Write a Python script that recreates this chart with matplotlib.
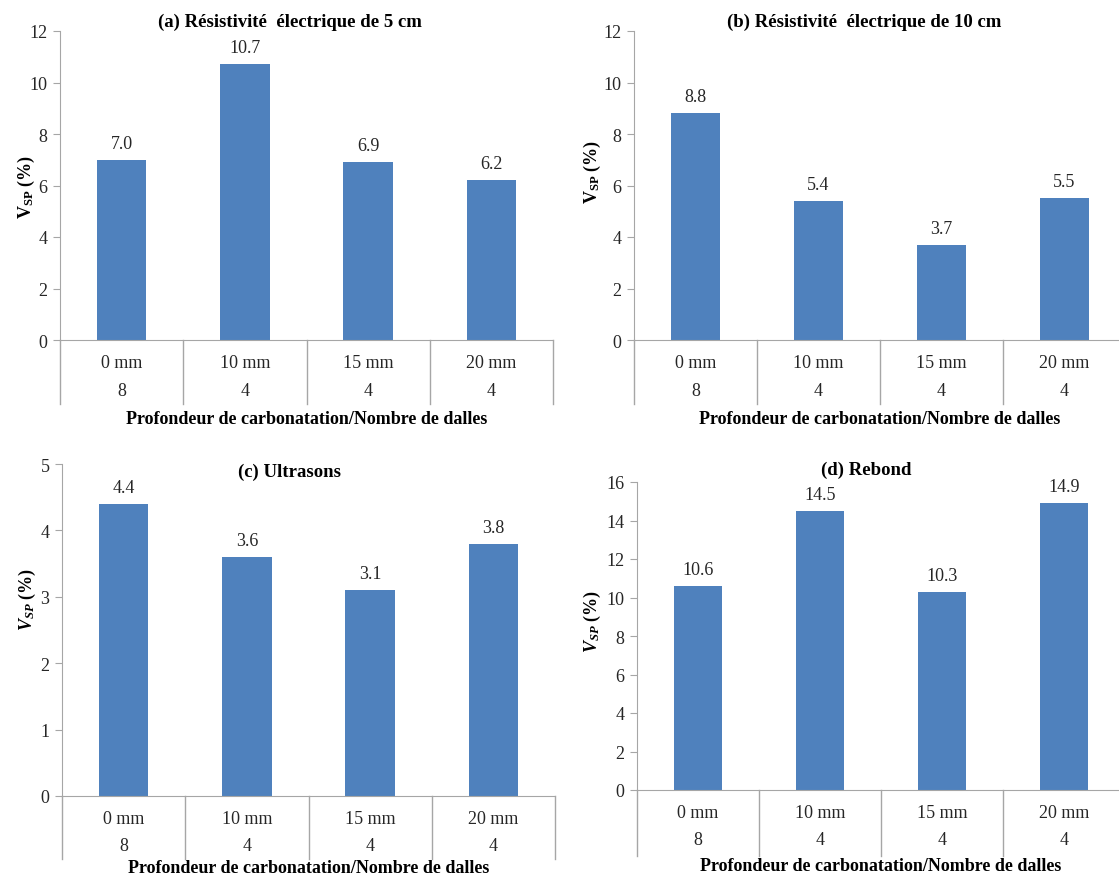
import matplotlib
matplotlib.use('Agg')
import matplotlib.pyplot as plt
from matplotlib.lines import Line2D

plt.rcParams['font.family'] = ['Liberation Serif', 'DejaVu Serif']
plt.rcParams['mathtext.fontset'] = 'custom'
plt.rcParams['mathtext.rm'] = 'Liberation Serif'
plt.rcParams['mathtext.bf'] = 'Liberation Serif:bold'
plt.rcParams['mathtext.it'] = 'Liberation Serif:italic:bold'

# data
profondeur = ['0 mm', '10 mm', '15 mm', '20 mm']
nb_dalles = ['8', '4', '4', '4']
vsp_res5 = [7.0, 10.7, 6.9, 6.2]
vsp_res10 = [8.8, 5.4, 3.7, 5.5]
vsp_us = [4.4, 3.6, 3.1, 3.8]
vsp_rebond = [10.6, 14.5, 10.3, 14.9]

titles = ['(a) Résistivité  électrique de 5 cm', '(b) Résistivité  électrique de 10 cm',
          '(c) Ultrasons', '(d) Rebond']
xlabel = 'Profondeur de carbonatation/Nombre de dalles'

W, H = 1119, 879
BAR = '#4F81BD'
GRID = '#A6A6A6'
TXT = '#262626'
FS = 13

fig = plt.figure(figsize=(W / 100, H / 100), dpi=100)

# boxes in pixels: (left, top, right, bottom)
panels = [
    dict(box=(60, 32, 553, 341), ymax=12, step=2, vals=vsp_res5, title=(290, 22),
         ylab=(26, 187), depth=64, xl=420, lab=r'$\mathbf{V_{SP}}$ (%)'),
    dict(box=(634, 32, 1126, 341), ymax=12, step=2, vals=vsp_res10, title=(864, 22),
         ylab=(592, 172), depth=64, xl=419, lab=r'$\mathbf{V_{SP}}$ (%)'),
    dict(box=(62, 465, 555, 797), ymax=5, step=1, vals=vsp_us, title=(290, 472),
         ylab=(27, 600), depth=63, xl=869, lab=r'$\mathit{V_{SP}}$ (%)'),
    dict(box=(637, 483, 1125, 791), ymax=16, step=2, vals=vsp_rebond, title=(866, 470),
         ylab=(592, 622), depth=66, xl=867, lab=r'$\mathit{V_{SP}}$ (%)'),
]

for i, p in enumerate(panels):
    l, t, r, b = p['box']
    ax = fig.add_axes([l / W, 1 - b / H, (r - l) / W, (b - t) / H])
    x = list(range(len(profondeur)))
    ax.bar(x, p['vals'], width=0.4, color=BAR, zorder=2)
    for xi, v in zip(x, p['vals']):
        ax.annotate(f'{v:.1f}', (xi, v), xytext=(0, 8), textcoords='offset pixels',
                    ha='center', va='bottom', fontsize=FS, color=TXT)
    ax.set_xlim(-0.5, 3.5)
    ax.set_ylim(0, p['ymax'])
    ax.set_yticks(range(0, p['ymax'] + 1, p['step']))
    ax.tick_params(axis='y', direction='out', length=5, color=GRID, labelsize=FS,
                   labelcolor=TXT, pad=4)
    ax.set_xticks([])
    for s in ['top', 'right']:
        ax.spines[s].set_visible(False)
    ax.spines['left'].set_color(GRID)
    ax.spines['bottom'].set_color(GRID)

    # category table under the axis
    d = p['depth'] / (b - t)
    tr = ax.get_xaxis_transform()
    for xb in [-0.5, 0.5, 1.5, 2.5, 3.5]:
        ax.add_line(Line2D([xb, xb], [0, -d], transform=tr, color=GRID, lw=1, clip_on=False))
    for xi, c1, c2 in zip(x, profondeur, nb_dalles):
        ax.annotate(c1, (xi, 0), xycoords=tr, xytext=(0, -23), textcoords='offset pixels',
                    ha='center', va='center', fontsize=FS, color=TXT)
        ax.annotate(c2, (xi, 0), xycoords=tr, xytext=(0, -50), textcoords='offset pixels',
                    ha='center', va='center', fontsize=FS, color=TXT)
    fig.text((l + r) / 2 / W, 1 - p['xl'] / H, xlabel, ha='center', va='center',
             fontsize=13, fontweight='bold', color='black')

    fig.text(p['title'][0] / W, 1 - p['title'][1] / H, titles[i], ha='center', va='center',
             fontsize=13.5, fontweight='bold', color='black')
    fig.text(p['ylab'][0] / W, 1 - p['ylab'][1] / H, p['lab'], ha='center', va='center',
             rotation=90, fontsize=13, fontweight='bold', color='black')

fig.savefig('out.png', dpi=100)
